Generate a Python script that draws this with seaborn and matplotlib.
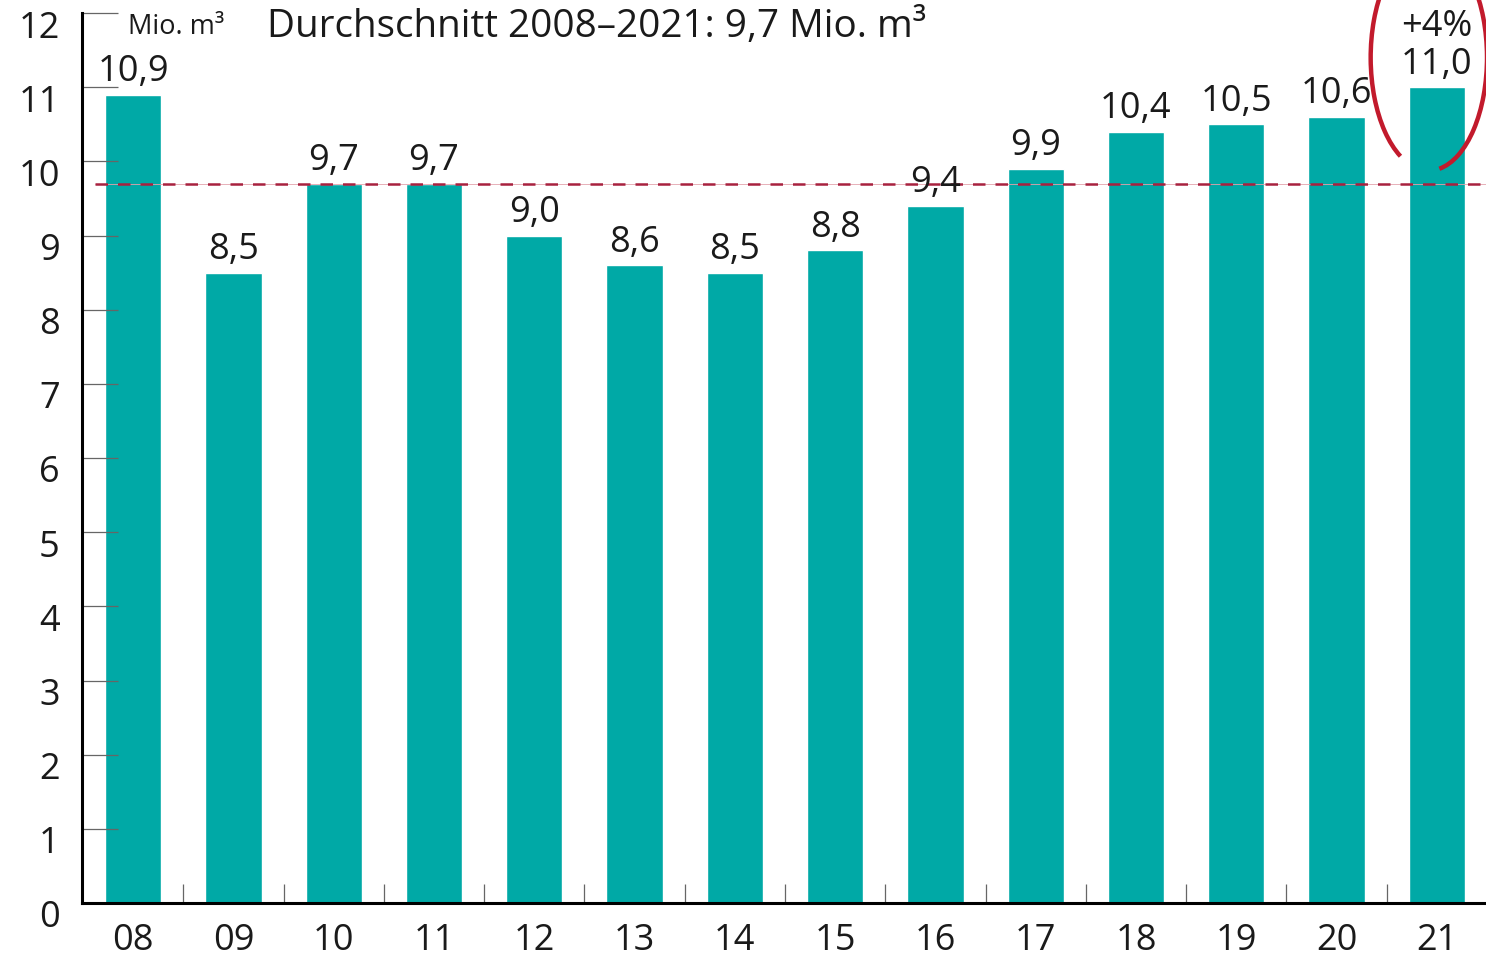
import matplotlib
matplotlib.use("Agg")
import matplotlib.pyplot as plt
import matplotlib.transforms as mtransforms
import pandas as pd
import seaborn as sns
from matplotlib.patches import Arc

# ── Data ─────────────────────────────────────────────────────────────────────
years = ["08", "09", "10", "11", "12", "13", "14", "15", "16", "17", "18", "19", "20", "21"]
values = [10.9, 8.5, 9.7, 9.7, 9.0, 8.6, 8.5, 8.8, 9.4, 9.9, 10.4, 10.5, 10.6, 11.0]
y_ticks = list(range(0, 13))
average = 9.7
last_change = "+4%"
unit_label = "Mio. m³"
avg_label = "Durchschnitt 2008–2021: 9,7 Mio. m³"

BAR_COLOR = "#00a9a6"
AVG_COLOR = "#a8213f"
RING_COLOR = "#c21a2c"
TEXT_COLOR = "#1a1a1a"
TICK_COLOR = "#666666"

sns.set_theme(style="white")
plt.rcParams["font.family"] = ["Open Sans", "DejaVu Sans"]

df = pd.DataFrame({"year": years, "value": values})

fig = plt.figure(figsize=(14.86, 9.62), dpi=100)
ax = fig.add_axes([82 / 1486, 58 / 962, 1 - 82 / 1486, 890 / 962])

sns.barplot(data=df, x="year", y="value", color=BAR_COLOR, saturation=1,
            width=0.56, ax=ax, zorder=1)

ax.set_xlim(-0.51, len(years) - 0.51)
ax.set_ylim(0, 12)
ax.set_xlabel("")
ax.set_ylabel("")
ax.set_axisbelow(False)

# spines
for side in ["top", "right"]:
    ax.spines[side].set_visible(False)
for side in ["left", "bottom"]:
    ax.spines[side].set_color("black")
    ax.spines[side].set_linewidth(2.2)
    ax.spines[side].set_zorder(4)

# y ticks: inward, labels sit a bit below the tick line
ax.set_yticks(y_ticks)
ax.set_yticklabels([str(t) for t in y_ticks])
ax.tick_params(axis="y", left=True, direction="in", length=26, width=0.9,
               color=TICK_COLOR, pad=16, labelsize=26, labelcolor=TEXT_COLOR)
offset = mtransforms.ScaledTranslation(0, -0.10, fig.dpi_scale_trans)
for lab in ax.get_yticklabels():
    lab.set_transform(lab.get_transform() + offset)

# x ticks: labels only, short separators between bars
ax.tick_params(axis="x", which="major", bottom=True, length=0, pad=14,
               labelsize=26, labelcolor=TEXT_COLOR)
ax.set_xticks([i + 0.5 for i in range(len(years) - 1)], minor=True)
ax.tick_params(axis="x", which="minor", bottom=True, direction="in", length=14,
               width=0.9, color=TICK_COLOR)

# average line
ax.hlines(average, -0.38, len(years) - 0.51, colors="#e3a3ad", linewidth=0.6, zorder=3)
ax.hlines(average, -0.38, len(years) - 0.51, colors=AVG_COLOR, linewidth=1.8,
          linestyles=(0, (5, 4)), zorder=3)

# value labels
labels = [f"{v:.1f}".replace(".", ",") for v in values]
labels[-1] = f"{last_change}\n{labels[-1]}"
ax.bar_label(ax.containers[0], labels=labels, padding=4, fontsize=26,
             color=TEXT_COLOR, linespacing=1.05, zorder=5)

# header texts
ax.text(0.033, 0.985, unit_label, transform=ax.transAxes, fontsize=19.5,
        color=TEXT_COLOR, ha="left", va="center")
ax.text(0.1318, 0.985, avg_label, transform=ax.transAxes, fontsize=27.8,
        color=TEXT_COLOR, ha="left", va="center")

# hand-drawn style ring around the last bar's label
last = len(years) - 1
ring = Arc((last - 0.08, values[-1] + 0.4), 1.16, 3.05, theta1=-86, theta2=258,
           color=RING_COLOR, linewidth=3.2, clip_on=False, zorder=6)
ax.add_patch(ring)

fig.savefig("out.png", dpi=100)
